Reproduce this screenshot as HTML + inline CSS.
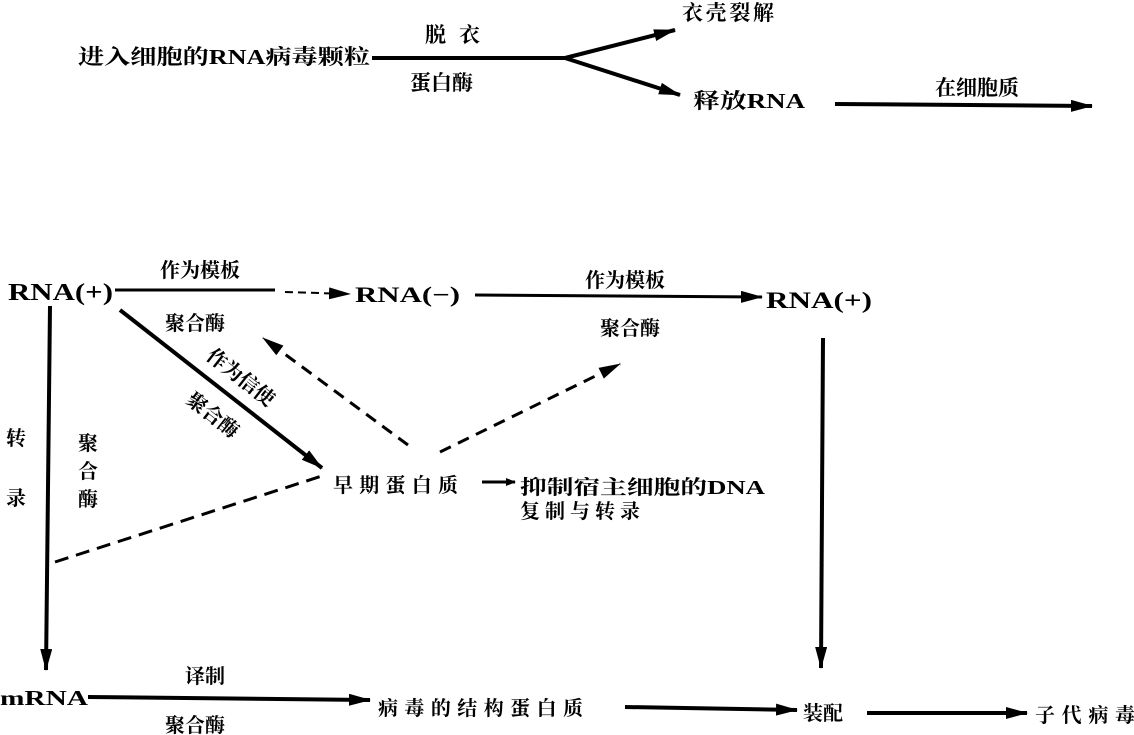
<!DOCTYPE html>
<html><head><meta charset="utf-8"><style>
html,body{margin:0;padding:0;background:#fff;}
svg{display:block;}
text{font-family:"Liberation Serif","Noto Serif CJK SC",serif;fill:#000;font-weight:bold;}
</style></head><body>
<svg width="1134" height="735" viewBox="0 0 1134 735" xmlns="http://www.w3.org/2000/svg">
<defs>
<marker id="a" markerWidth="10" markerHeight="8" refX="9" refY="4" orient="auto" markerUnits="userSpaceOnUse" viewBox="0 0 10 8"><path d="M0,0 L10,4 L0,8 Z" fill="#000"/></marker>
<marker id="b" markerWidth="22" markerHeight="12" refX="21" refY="6" orient="auto" markerUnits="userSpaceOnUse" viewBox="0 0 22 12"><path d="M0,0 L22,6 L0,12 Z" fill="#000"/></marker>
</defs>
<g font-size="21">
<text x="78" y="64" textLength="292" lengthAdjust="spacingAndGlyphs">进入细胞的RNA病毒颗粒</text>
<text x="425" y="42" textLength="55">脱 衣</text>
<text x="410" y="90">蛋白酶</text>
<text x="682" y="20" textLength="92" font-weight="normal">衣壳裂解</text>
<text x="693" y="108" textLength="112" lengthAdjust="spacingAndGlyphs">释放RNA</text>
<text x="935" y="95">在细胞质</text>
</g>
<g stroke="#000" fill="none">
<line x1="372" y1="58" x2="565" y2="58" stroke-width="4"/>
<line x1="565" y1="58" x2="675" y2="30" stroke-width="4" marker-end="url(#b)"/>
<line x1="565" y1="58" x2="680" y2="95" stroke-width="4" marker-end="url(#b)"/>
<line x1="835" y1="104" x2="1092" y2="106" stroke-width="4" marker-end="url(#b)"/>

<line x1="115" y1="290" x2="275" y2="290" stroke-width="3"/>
<line x1="285" y1="292" x2="350" y2="294" stroke-width="2" stroke-dasharray="8 5" marker-end="url(#b)"/>
<line x1="475" y1="295" x2="762" y2="297" stroke-width="3" marker-end="url(#b)"/>
<line x1="50" y1="306" x2="46" y2="670" stroke-width="4" marker-end="url(#b)"/>
<line x1="823" y1="338" x2="821" y2="668" stroke-width="4" marker-end="url(#b)"/>
<line x1="120" y1="310" x2="322" y2="468" stroke-width="4" marker-end="url(#b)"/>
<line x1="408" y1="445" x2="263" y2="338" stroke-width="3" stroke-dasharray="12 8" marker-end="url(#b)"/>
<line x1="440" y1="452" x2="620" y2="364" stroke-width="3" stroke-dasharray="12 8" marker-end="url(#b)"/>
<line x1="55" y1="562" x2="325" y2="475" stroke-width="3" stroke-dasharray="14 8"/>
<line x1="482" y1="482" x2="515" y2="482" stroke-width="3" marker-end="url(#a)"/>
<line x1="88" y1="697" x2="370" y2="700" stroke-width="4" marker-end="url(#b)"/>
<line x1="625" y1="707" x2="797" y2="710" stroke-width="4" marker-end="url(#b)"/>
<line x1="867" y1="713" x2="1027" y2="713" stroke-width="4" marker-end="url(#b)"/>
</g>
<g font-size="20">
<text x="8" y="300" font-size="24" textLength="105" lengthAdjust="spacingAndGlyphs">RNA(+)</text>
<text x="160" y="277">作为模板</text>
<text x="165" y="330">聚合酶</text>
<text x="355" y="302" font-weight="normal" font-size="22" textLength="105" lengthAdjust="spacingAndGlyphs">RNA(−)</text>
<text x="585" y="287">作为模板</text>
<text x="600" y="335">聚合酶</text>
<text x="766" y="308" font-size="23" textLength="106" lengthAdjust="spacingAndGlyphs">RNA(+)</text>
<text transform="translate(205,358) rotate(38)">作为信使</text>
<text transform="translate(185,402) rotate(38)">聚合酶</text>
<text x="333" y="492" textLength="125">早期蛋白质</text>
<text x="520" y="494" textLength="245" lengthAdjust="spacingAndGlyphs">抑制宿主细胞的DNA</text>
<text x="520" y="518" textLength="120">复制与转录</text>
<text x="6" y="445">转</text>
<text x="6" y="505">录</text>
<text x="78" y="450">聚</text>
<text x="78" y="478">合</text>
<text x="78" y="506">酶</text>
<text x="0" y="705" font-size="21" textLength="88" lengthAdjust="spacingAndGlyphs">mRNA</text>
<text x="185" y="683">译制</text>
<text x="165" y="732">聚合酶</text>
<text x="378" y="715" font-weight="normal" textLength="205">病毒的结构蛋白质</text>
<text x="803" y="720">装配</text>
<text x="1035" y="722" font-weight="normal" textLength="100">子代病毒</text>
</g>
</svg>
</body></html>
